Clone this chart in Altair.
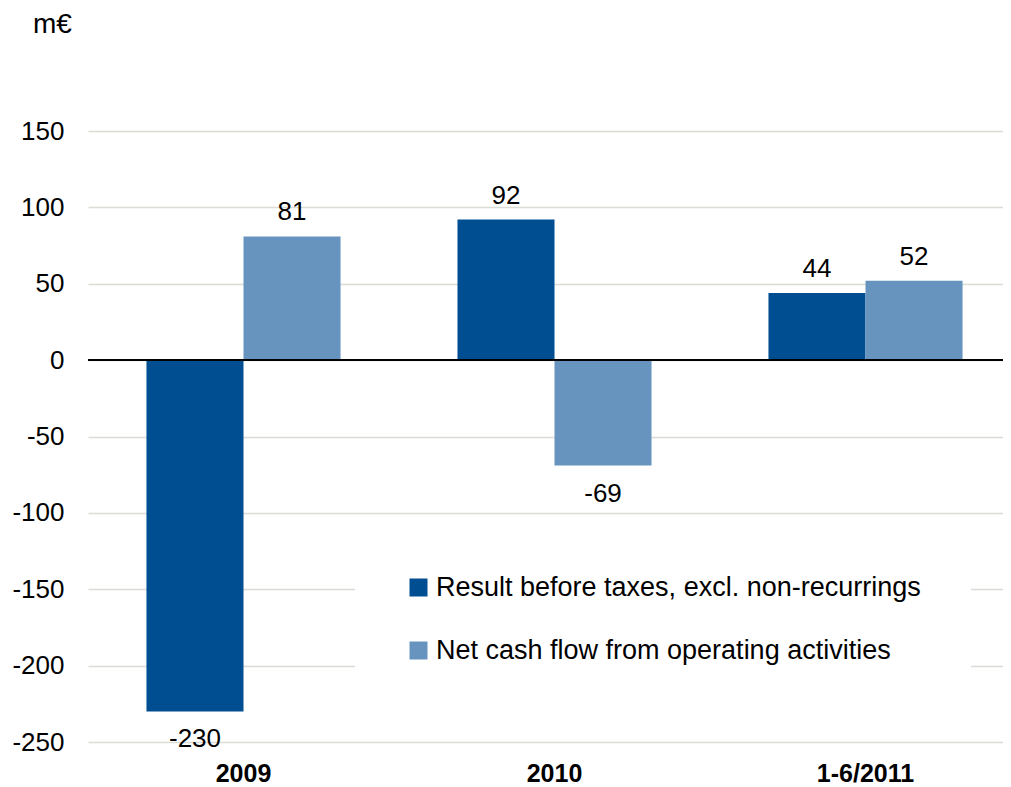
import altair as alt
import pandas as pd

periods = ["2009", "2010", "1-6/2011"]
series = ["Result before taxes, excl. non-recurrings", "Net cash flow from operating activities"]
result_before_taxes = [-230, 92, 44]
net_cash_flow = [81, -69, 52]
colors = ["#004E92", "#6794BF"]
y_ticks = [-250, -200, -150, -100, -50, 0, 50, 100, 150]

rows = []
for i, p in enumerate(periods):
    rows.append({"period": p, "series": series[0], "value": result_before_taxes[i]})
    rows.append({"period": p, "series": series[1], "value": net_cash_flow[i]})
df = pd.DataFrame(rows)

FONT = "Liberation Sans"

x = alt.X(
    "period:N",
    sort=periods,
    scale=alt.Scale(range=[0, 933], paddingInner=0.376, paddingOuter=0.188),
    axis=alt.Axis(title=None, labelAngle=0, labelFontWeight="bold", labelFontSize=25,
                  labelFont=FONT, labelColor="black", domain=False, ticks=False,
                  labelPadding=19, grid=False),
)
y = alt.Y(
    "value:Q",
    scale=alt.Scale(domain=[-250, 150], nice=False, zero=False),
    axis=alt.Axis(title=None, values=y_ticks, domain=False, ticks=False, labelFontSize=26,
                  labelFont=FONT, labelColor="black", labelPadding=24,
                  labelExpr="'' + datum.value",
                  gridColor="#DCDCD6", gridWidth=1.5),
)
xo = alt.XOffset("series:N", sort=series, scale=alt.Scale(paddingInner=0, paddingOuter=0))
color = alt.Color(
    "series:N",
    sort=series,
    scale=alt.Scale(domain=series, range=colors),
    legend=alt.Legend(title=None, orient="none", legendX=267, legendY=393, direction="vertical",
                      fillColor="white", padding=50, symbolType="square", symbolSize=324,
                      symbolStrokeWidth=0, labelFontSize=27, labelFont=FONT, labelColor="black",
                      labelOffset=4, rowPadding=35, labelLimit=800, symbolOpacity=1),
)

bars = alt.Chart(df).mark_bar(opacity=1).encode(x=x, xOffset=xo, y=y, color=color)

pos_text = alt.Chart(df).transform_filter("datum.value >= 0").transform_calculate(
    label="'' + datum.value"
).mark_text(
    fontSize=26, font=FONT, color="black", baseline="alphabetic", dy=-16
).encode(x=x, xOffset=xo, y=y, text="label:N")

neg_text = alt.Chart(df).transform_filter("datum.value < 0").transform_calculate(
    label="'' + datum.value"
).mark_text(
    fontSize=26, font=FONT, color="black", baseline="alphabetic", dy=36
).encode(x=x, xOffset=xo, y=y, text="label:N")

zero = alt.Chart(df).mark_rule(color="black", strokeWidth=1.2).encode(y=alt.datum(0))

chart = alt.layer(bars, zero, pos_text, neg_text).properties(
    width=915,
    height=611,
    autosize="none",
    padding={"left": 80, "top": 123, "right": 0, "bottom": 45},
    title=alt.TitleParams("m€", anchor="start", frame="group", fontSize=28, font=FONT,
                          fontWeight="normal", color="black", dx=-55, offset=57,
                          baseline="alphabetic"),
    background="white",
).configure_view(stroke=None)

chart.save("out.html", embed_options={"renderer": "svg", "actions": False})
